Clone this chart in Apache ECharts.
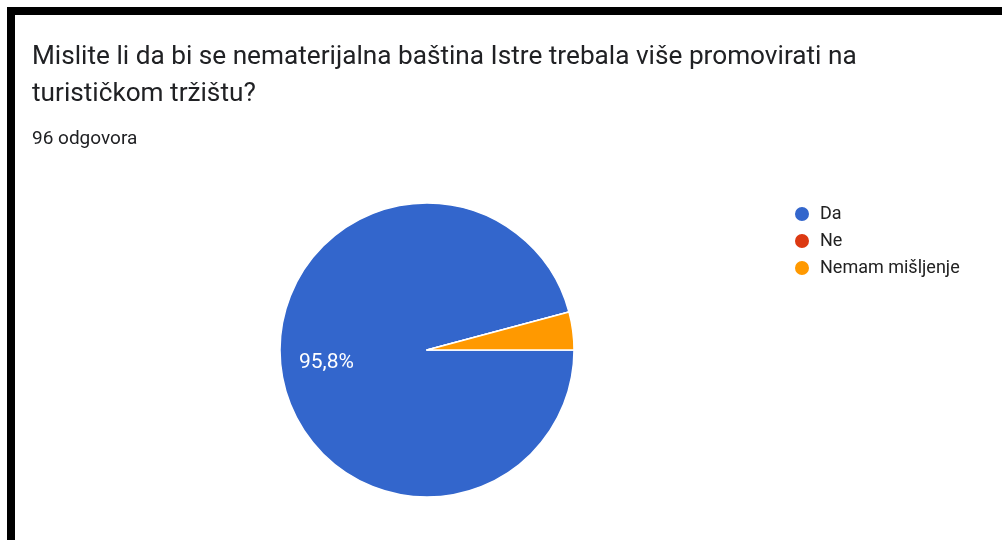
<!DOCTYPE html>
<html>
<head>
<meta charset="utf-8">
<script src="https://cdn.jsdelivr.net/npm/echarts@6/dist/echarts.min.js"></script>
<style>
  html, body { margin: 0; padding: 0; background: #fff; }
  #wrap { position: relative; width: 1002px; height: 540px; overflow: hidden; }
  #chart { position: absolute; left: 0; top: 0; width: 1002px; height: 540px; }
  #frame { position: absolute; left: 7px; top: 7px; width: 1100px; height: 600px;
           border-top: 8px solid #000; border-left: 8px solid #000; pointer-events: none; }
</style>
</head>
<body>
<div id="wrap"><div id="chart"></div><div id="frame"></div></div>
<script>
const questionTitle = 'Mislite li da bi se nematerijalna baština Istre trebala više promovirati na\nturističkom tržištu?';
const responseCount = '96 odgovora';
const categories = ['Da', 'Ne', 'Nemam mišljenje'];
const counts = [92, 0, 4];
const colors = ['#3366cc', '#dc3912', '#ff9900'];

const total = counts.reduce((a, b) => a + b, 0);
const pieData = categories.map((c, i) => ({ name: c, value: counts[i], itemStyle: { color: colors[i] } }));
const fmt = p => {
  const pct = p.value / total * 100;
  return pct >= 10 ? pct.toFixed(1).replace('.', ',') + '%' : '';
};
const FF = 'Roboto, Arial, sans-serif';

const chart = echarts.init(document.getElementById('chart'));
chart.setOption({
  animation: false,
  textStyle: { fontFamily: FF },
  title: [
    { text: questionTitle, left: 32, top: 39, padding: 0,
      textStyle: { fontSize: 26.2, fontWeight: 'normal', color: '#202124', lineHeight: 37, fontFamily: FF } },
    { text: responseCount, left: 32, top: 130, padding: 0,
      textStyle: { fontSize: 19, fontWeight: 'normal', color: '#202124', fontFamily: FF } }
  ],
  legend: {
    orient: 'vertical', left: 793, top: 205, itemGap: 9, padding: 0,
    icon: 'circle', itemWidth: 16, itemHeight: 16,
    data: categories,
    textStyle: { fontSize: 18, color: '#222', fontFamily: FF, padding: [0, 0, 0, 5] }
  },
  series: [
    {
      type: 'pie', center: [427, 350], radius: 147, startAngle: 0, clockwise: true,
      avoidLabelOverlap: false, silent: true,
      itemStyle: { borderColor: '#fff', borderWidth: 1.5 },
      label: { show: false }, labelLine: { show: false },
      emphasis: { disabled: true },
      data: pieData
    },
    {
      type: 'pie', center: [427, 350], radius: [50, 147], startAngle: 0, clockwise: true,
      avoidLabelOverlap: false, silent: true, legendHoverLink: false,
      itemStyle: { color: 'rgba(0,0,0,0)', borderWidth: 0 },
      label: { show: true, position: 'inside', formatter: fmt, color: '#fff', fontSize: 21, fontFamily: FF },
      labelLine: { show: false },
      emphasis: { disabled: true },
      data: categories.map((c, i) => ({ name: c, value: counts[i], itemStyle: { color: 'rgba(0,0,0,0)' } }))
    }
  ]
});
</script>
</body>
</html>
